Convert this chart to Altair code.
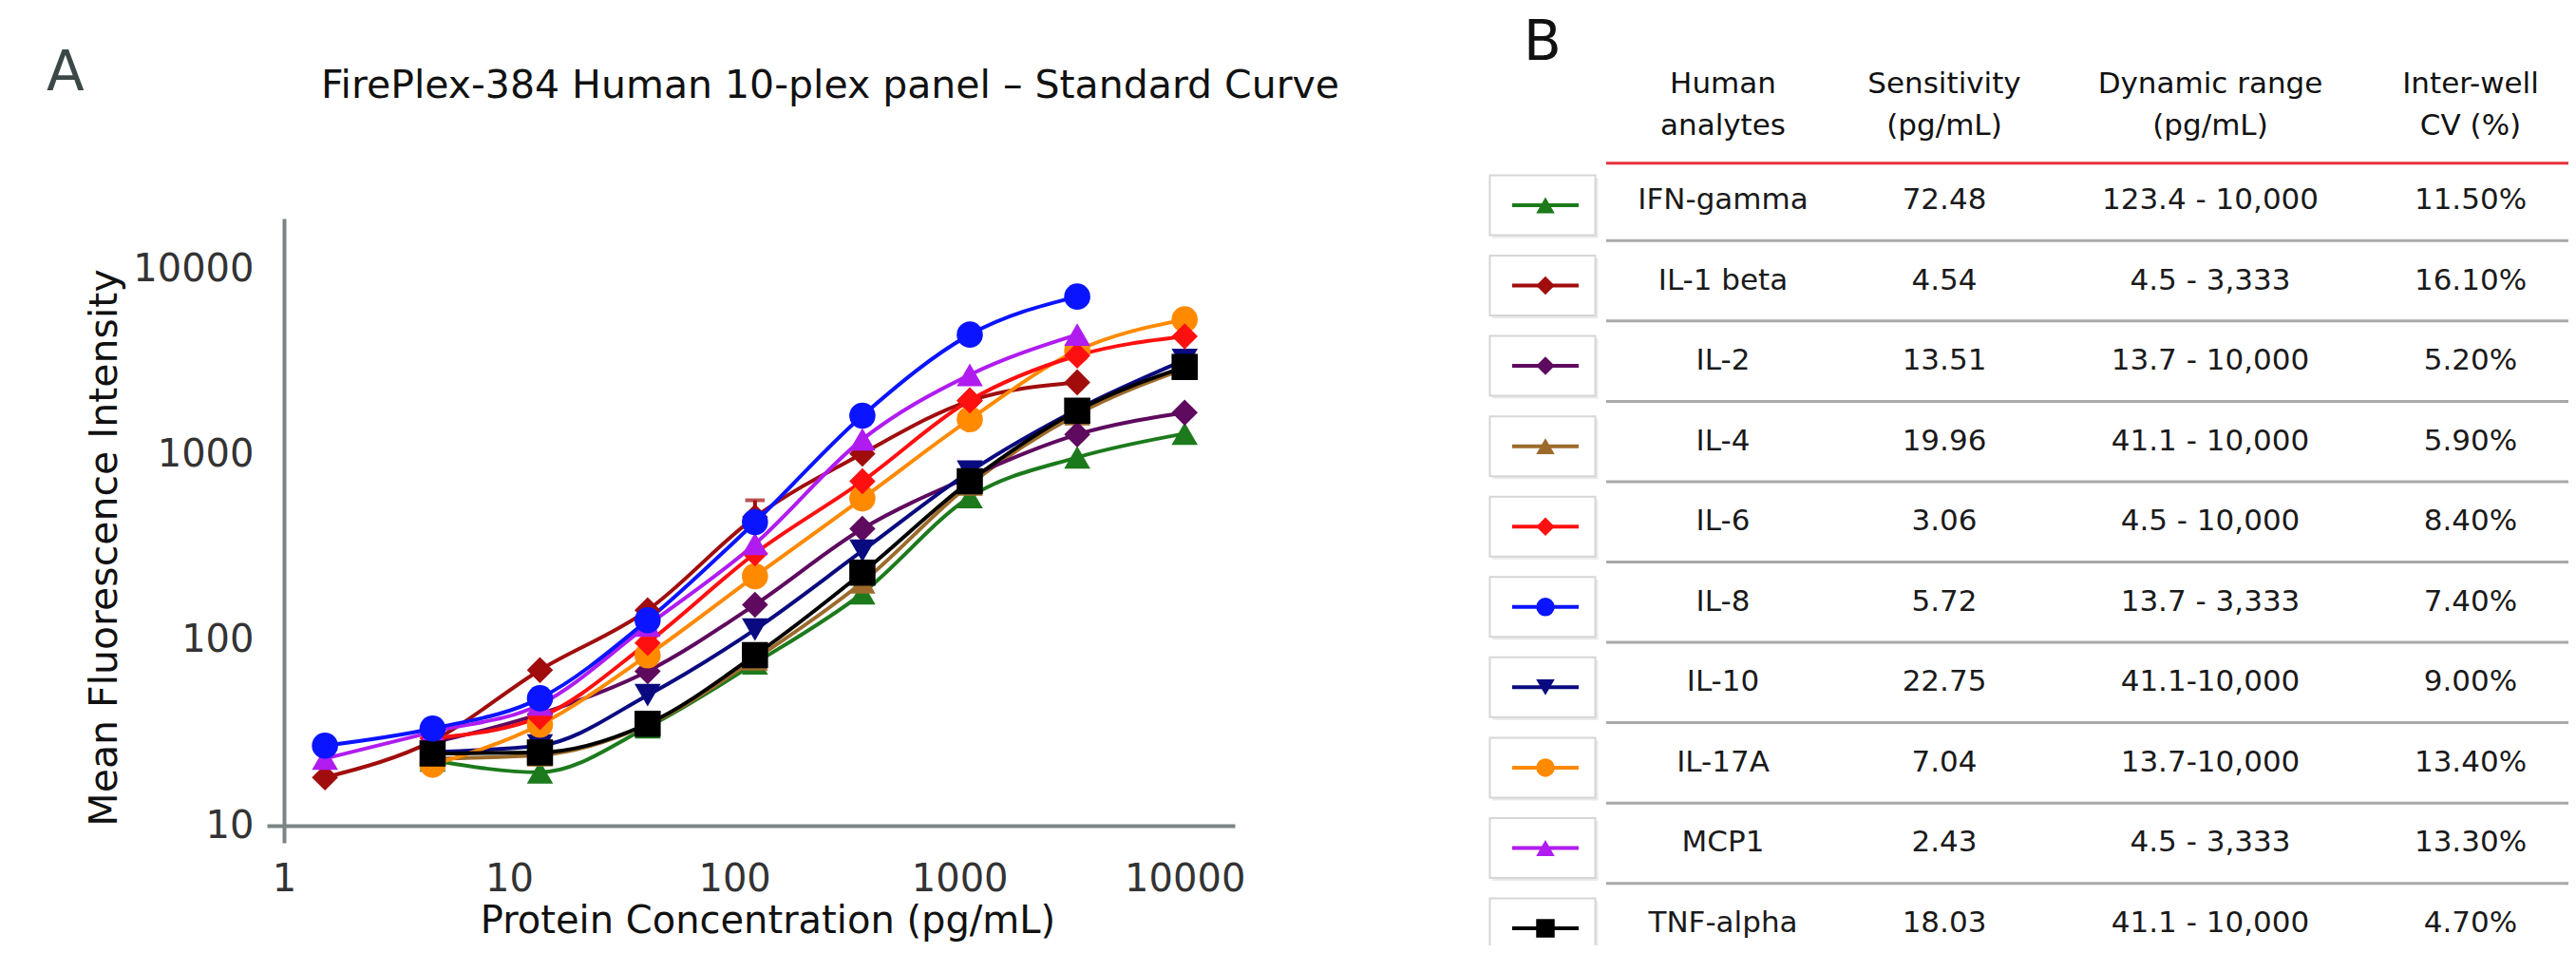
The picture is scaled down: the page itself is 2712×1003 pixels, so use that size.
import altair as alt
import pandas as pd

FONT = "DejaVu Sans"
AXIS_COLOR = "#7b8585"

# ---------------- data: standard curves ----------------
conc = [1.52, 4.57, 13.7, 41.2, 123.5, 370.4, 1111.0, 3333.0, 10000.0]
analytes = ["IFN-gamma", "IL-1 beta", "IL-2", "IL-4", "IL-6",
            "IL-8", "IL-10", "IL-17A", "MCP1", "TNF-alpha"]
colors = ["#1c7a1c", "#a10d0d", "#5e0a5e", "#9c6b2b", "#ff1010",
          "#0a14ff", "#0a0a80", "#ff8a00", "#b01cf0", "#000000"]
shapes = ["triangle-up", "diamond", "diamond", "triangle-up", "diamond",
          "circle", "triangle-down", "circle", "triangle-up", "square"]

ifn_gamma = [None, 22.5, 19.4, 34, 75, 179, 590, 966, 1297]
il1_beta = [18.2, 28.6, 69, 145, 460, 1012, 1950, 2450, None]
il2 = [None, 28, 40, 68, 155, 398, 760, 1282, 1682]
il4 = [None, 23, 24, 35, 79, 205, 690, 1650, 2900]
il6 = [None, 29.6, 38.5, 96.6, 293, 718, 1958, 3414, 4330]
il8 = [27, 33.4, 48.6, 128, 432, 1620, 4430, 7100, None]
il10 = [None, 25, 27, 50.5, 114, 303, 809, 1750, 3230]
il17a = [None, 21.3, 35, 82.8, 221, 580, 1548, 3630, 5350]
mcp1 = [23, 32, 45, 120, 330, 1208, 2690, 4430, None]
tnf_alpha = [None, 24.5, 24.8, 35.4, 83, 231, 718, 1722, 2966]

draw_order = ["IFN-gamma", "IL-4", "IL-2", "IL-10", "IL-1 beta", "IL-17A",
              "IL-6", "MCP1", "TNF-alpha", "IL-8"]

err_analyte = ["IL-1 beta"]
err_conc = [123.5]
err_low = [460]
err_high = [567]

# ---------------- data: table ----------------
sensitivity = ["72.48", "4.54", "13.51", "19.96", "3.06",
               "5.72", "22.75", "7.04", "2.43", "18.03"]
dynamic_range = ["123.4 - 10,000", "4.5 - 3,333", "13.7 - 10,000", "41.1 - 10,000",
                 "4.5 - 10,000", "13.7 - 3,333", "41.1-10,000", "13.7-10,000",
                 "4.5 - 3,333", "41.1 - 10,000"]
inter_well_cv = ["11.50%", "16.10%", "5.20%", "5.90%", "8.40%",
                 "7.40%", "9.00%", "13.40%", "13.30%", "4.70%"]
header_top = ["Human", "Sensitivity", "Dynamic range", "Inter-well"]
header_bottom = ["analytes", "(pg/mL)", "(pg/mL)", "CV (%)"]

chart_title = "FirePlex-384 Human 10-plex panel \u2013 Standard Curve"

# ---------------- build tables ----------------
series = dict(zip(analytes, [ifn_gamma, il1_beta, il2, il4, il6,
                             il8, il10, il17a, mcp1, tnf_alpha]))
rows = []
for name in draw_order:
    for c, v in zip(conc, series[name]):
        if v is not None:
            rows.append({"analyte": name, "conc": c, "mfi": v})
df = pd.DataFrame(rows)

err_df = pd.DataFrame({"analyte": err_analyte, "conc": err_conc,
                       "mfi": err_low, "hi": err_high})
cap_df = pd.DataFrame({"analyte": err_analyte, "conc": err_conc, "mfi": err_high})

tbl = pd.DataFrame({"analyte": analytes, "sens": sensitivity,
                    "dyn": dynamic_range, "cv": inter_well_cv})
one = pd.DataFrame({"k": [0]})

# ---------------- plot (panel A) ----------------
x_axis = alt.Axis(
    values=[1, 10, 100, 1000, 10000], format="d", grid=False,
    domainColor=AXIS_COLOR, domainWidth=4,
    tickColor=AXIS_COLOR, tickWidth=4, tickSize=18,
    tickOpacity={"condition": {"test": "datum.value == 1", "value": 1}, "value": 0},
    labelFont=FONT, labelFontSize=40, labelColor="#333333", labelPadding=18,
    labelFlush=False, labelOverlap=False,
    title="Protein Concentration (pg/mL)", titleFont=FONT, titleFontSize=40,
    titleFontWeight="normal", titleColor="#111111",
    titleX=509, titleY=80, titleBaseline="top", titleAlign="center",
)
y_axis = alt.Axis(
    values=[10, 100, 1000, 10000], format="d", grid=False,
    domainColor=AXIS_COLOR, domainWidth=4,
    tickColor=AXIS_COLOR, tickWidth=4, tickSize=18,
    tickOpacity={"condition": {"test": "datum.value == 10", "value": 1}, "value": 0},
    labelFont=FONT, labelFontSize=40, labelColor="#333333", labelPadding=14,
    labelFlush=False, labelOverlap=False,
    title="Mean Fluorescence Intensity", titleFont=FONT, titleFontSize=41,
    titleFontWeight="normal", titleColor="#111111",
    titleX=-177, titleY=346, titleBaseline="alphabetic", titleAlign="center",
    titleAngle=270,
)
x_scale = alt.Scale(type="log", domain=[1, 16700], nice=False)
y_scale = alt.Scale(type="log", domain=[10, 18700], nice=False)
color_enc = alt.Color("analyte:N", scale=alt.Scale(domain=analytes, range=colors), legend=None)
shape_enc = alt.Shape("analyte:N", scale=alt.Scale(domain=analytes, range=shapes), legend=None)

def X():
    return alt.X("conc:Q", scale=x_scale, axis=x_axis)

def Y():
    return alt.Y("mfi:Q", scale=y_scale, axis=y_axis)

lines = alt.Chart(df).mark_line(interpolate="monotone", strokeWidth=4).encode(
    x=X(), y=Y(), color=color_enc)
err_rule = alt.Chart(err_df).mark_rule(strokeWidth=4).encode(
    x=X(), y=Y(), y2="hi:Q", color=color_enc)
err_cap = alt.Chart(cap_df).mark_point(shape="stroke", size=420, strokeWidth=4).encode(
    x=X(), y=Y(), color=color_enc)
points = alt.Chart(df).mark_point(filled=True, size=760, opacity=1).encode(
    x=X(), y=Y(), color=color_enc, shape=shape_enc)

plot = alt.layer(lines, err_rule, err_cap, points)

# ---------------- table (panel B) ----------------
row_scale = alt.Scale(type="band", domain=analytes, range=[-61.3, 784.3],
                      paddingInner=0, paddingOuter=0)

def R(pos=0.5):
    return alt.Y("analyte:N", scale=row_scale, axis=None, bandPosition=pos)

BOX_PATH = "M-1,-0.568L1,-0.568L1,0.568L-1,0.568Z"
tb = alt.Chart(tbl)
shadow = tb.mark_point(shape=BOX_PATH, size=111 ** 2, filled=True, fill="#e9e9e9",
                       stroke=None, opacity=1, xOffset=3, yOffset=8).encode(
    x=alt.value(1325), y=R())
box = tb.mark_point(shape=BOX_PATH, size=111 ** 2, filled=True, fill="white",
                    stroke="#d6d6d6", strokeWidth=2, opacity=1, yOffset=5).encode(
    x=alt.value(1325), y=R())
icon_line = tb.mark_rule(strokeWidth=4, yOffset=5).encode(
    x=alt.value(1293), x2=alt.value(1363), y=R(), color=color_enc)
icon_pt = tb.mark_point(filled=True, size=380, opacity=1, yOffset=5).encode(
    x=alt.value(1328), y=R(), color=color_enc, shape=shape_enc)

COL_X = [1515, 1748, 2028, 2302]
txt_kw = dict(font=FONT, fontSize=31, color="#1a1a1a", align="center", baseline="middle")
col_name = tb.mark_text(**txt_kw).encode(x=alt.value(COL_X[0]), y=R(), text="analyte:N")
col_sens = tb.mark_text(**txt_kw).encode(x=alt.value(COL_X[1]), y=R(), text="sens:N")
col_dyn = tb.mark_text(**txt_kw).encode(x=alt.value(COL_X[2]), y=R(), text="dyn:N")
col_cv = tb.mark_text(**txt_kw).encode(x=alt.value(COL_X[3]), y=R(), text="cv:N")

separators = tb.mark_rule(color="#a9a9a9", strokeWidth=3).encode(
    x=alt.value(1392), x2=alt.value(2407), y=R(1))
red_line = tb.transform_filter(alt.datum.analyte == analytes[0]).mark_rule(
    color="#e8303f", strokeWidth=3, yOffset=3).encode(
    x=alt.value(1392), x2=alt.value(2407), y=R(0))

headers = []
for cx, top, bot in zip(COL_X, header_top, header_bottom):
    headers.append(alt.Chart(one).mark_text(
        text=[top, bot], lineHeight=44, font=FONT, fontSize=31, color="#111111",
        align="center", baseline="middle").encode(x=alt.value(cx), y=alt.value(-141)))

label_a = alt.Chart(one).mark_text(text="A", font=FONT, fontSize=58, color="#3b4847",
                                   align="left", baseline="alphabetic").encode(
    x=alt.value(-250), y=alt.value(-135))
label_b = alt.Chart(one).mark_text(text="B", font=FONT, fontSize=58, color="#111111",
                                   align="left", baseline="alphabetic").encode(
    x=alt.value(1305), y=alt.value(-167))
title_txt = alt.Chart(one).mark_text(text=chart_title, font=FONT, fontSize=41,
                                     color="#111111", align="center",
                                     baseline="alphabetic").encode(
    x=alt.value(575), y=alt.value(-127))

table = alt.layer(shadow, box, icon_line, icon_pt, col_name, col_sens, col_dyn, col_cv,
                  separators, red_line, *headers, label_a, label_b, title_txt)

chart = alt.layer(plot, table).resolve_scale(
    x="independent", y="independent"
).properties(
    width=1001, height=639,
    padding={"left": 291, "top": 222, "right": 1404, "bottom": 126},
    autosize=alt.AutoSizeParams(type="none"),
    background="white",
).configure_view(stroke=None)

chart.save("out.html", embed_options={"renderer": "svg", "actions": False})
